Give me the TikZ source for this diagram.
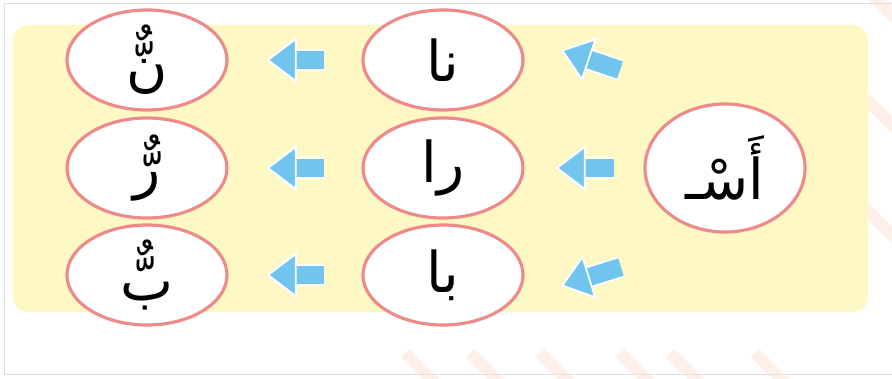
\documentclass[tikz,border=0pt]{standalone}
\usepackage{fontspec}
\newfontfamily\arabicfont[Script=Arabic]{DejaVu Sans}
\TeXXeTstate=1
\usepackage{tikz}
\usetikzlibrary{shapes.geometric,arrows.meta}
\definecolor{boxyellow}{RGB}{254,248,196}
\definecolor{rimred}{RGB}{238,138,138}
\definecolor{arrowblue}{RGB}{112,196,238}
\definecolor{stripe}{RGB}{254,240,232}
\newcommand{\harf}[1]{{\arabicfont\fontsize{32}{38}\selectfont\beginR #1\endR}}

\begin{document}
\begin{tikzpicture}[
    letter/.style={ellipse, draw=rimred, line width=1.8pt, fill=white,
      minimum width=3.2cm, minimum height=2cm, inner sep=0pt},
    blockarrow/.style={draw=arrowblue, line width=0.36cm,
      -{Triangle[length=0.6cm,width=0.9cm,color=white,fill=arrowblue,line width=1pt]},
      preaction={draw=white, line width=0.44cm, -{Triangle[length=0.6cm,width=0.9cm]}}}
  ]
    \useasboundingbox (0,0) rectangle (17.84,7.56);
    \begin{scope}
      \clip (0,0) rectangle (17.84,7.56);
      \foreach \x in {8.1,9.4,10.8,12.4,13.4,15.1}
        \draw[stripe, line width=0.24cm] (\x,0.5) -- ++(0.8,-0.8);
      \foreach \y in {7.8,5.6,3.4}
        \draw[stripe, line width=0.24cm] (17.3,\y) -- ++(0.9,-0.9);
    \end{scope}
    \draw[gray!25, line width=0.5pt] (0.08,0.08) rectangle (17.9,7.5);
    \fill[boxyellow, rounded corners=0.3cm] (0.26,1.32) rectangle (17.36,7.06);

    \node[letter] (nn) at (2.94,6.36) {\harf{نٌّ}};
    \node[letter] (rr) at (2.94,4.2) {\harf{رٌّ}};
    \node[letter] (bb) at (2.94,2.06) {\harf{بٌّ}};
    \node[letter] (na) at (8.86,6.36) {\harf{نا}};
    \node[letter] (ra) at (8.86,4.2) {\harf{را}};
    \node[letter] (ba) at (8.86,2.06) {\harf{با}};
    \node[letter, minimum height=2.56cm] (as) at (14.5,4.2) {\harf{أَسْـ}};

    \draw[blockarrow, shorten <=0.74cm, shorten >=0.76cm] (na) -- (nn);
    \draw[blockarrow, shorten <=0.74cm, shorten >=0.76cm] (ra) -- (rr);
    \draw[blockarrow, shorten <=0.74cm, shorten >=0.76cm] (ba) -- (bb);
    \draw[blockarrow, shorten <=0.58cm, shorten >=0.62cm] (as) -- (ra);
    \coordinate (up tail) at (12.4,6.16);
    \coordinate (up tip) at (11.22,6.56);
    \coordinate (down tail) at (12.42,2.22);
    \coordinate (down tip) at (11.22,1.84);
    \draw[blockarrow] (up tail) -- (up tip);
    \draw[blockarrow] (down tail) -- (down tip);
  \end{tikzpicture}
\end{document}
